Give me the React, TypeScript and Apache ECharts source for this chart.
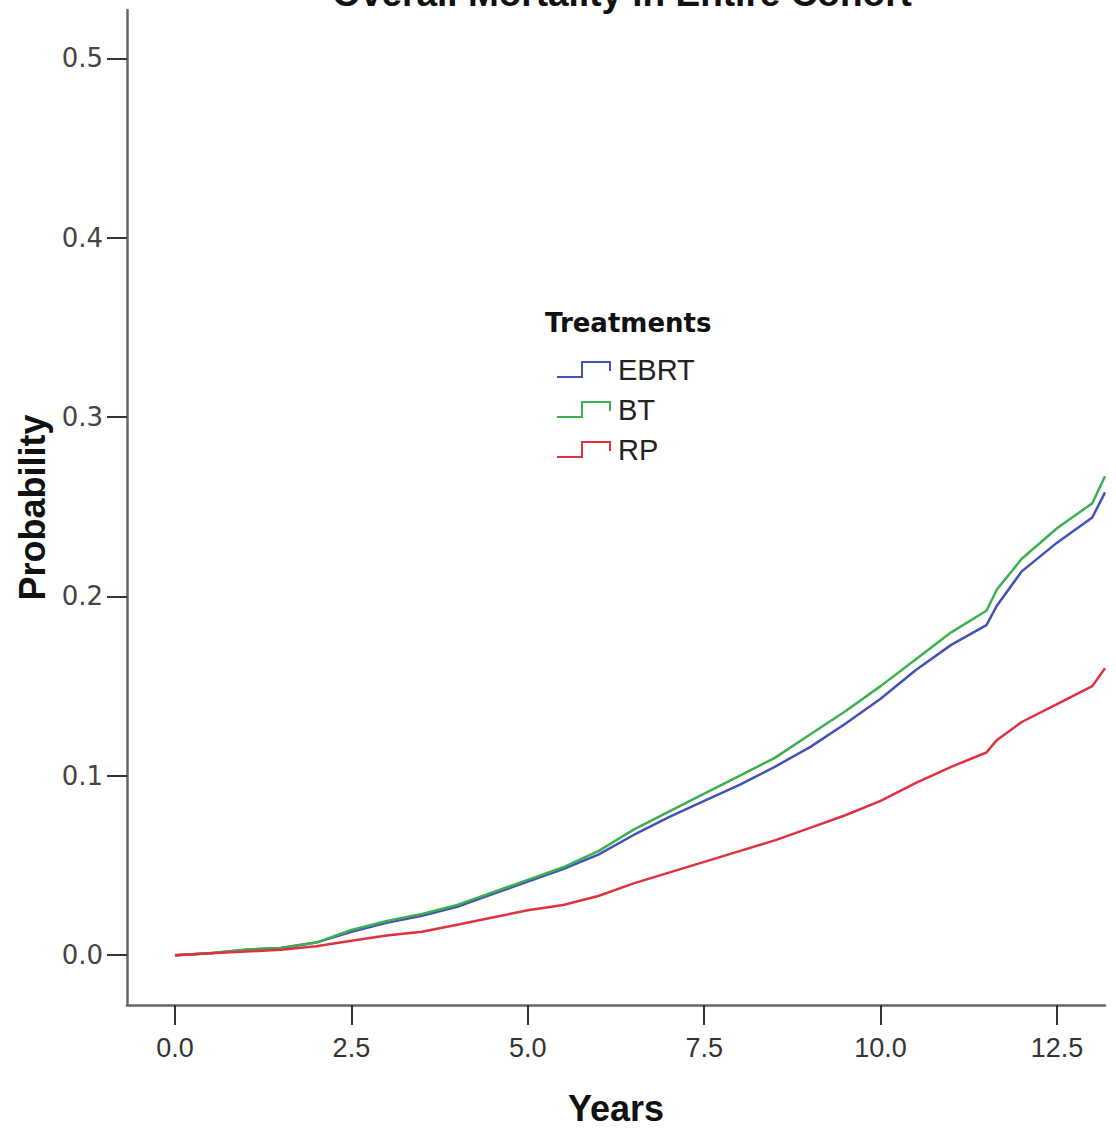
import React, { useEffect, useRef } from "react";
import * as echarts from "echarts";

const years = [0, 0.5, 1, 1.5, 2, 2.5, 3, 3.5, 4, 4.5, 5, 5.5, 6, 6.5, 7, 7.5, 8, 8.5, 9, 9.5, 10, 10.5, 11, 11.5, 11.65, 12, 12.5, 13, 13.18];
const ebrt = [0, 0.001, 0.003, 0.004, 0.007, 0.013, 0.018, 0.022, 0.027, 0.034, 0.041, 0.048, 0.056, 0.067, 0.077, 0.086, 0.095, 0.105, 0.116, 0.129, 0.143, 0.159, 0.173, 0.184, 0.195, 0.214, 0.23, 0.244, 0.258];
const bt = [0, 0.001, 0.003, 0.004, 0.007, 0.014, 0.019, 0.023, 0.028, 0.035, 0.042, 0.049, 0.058, 0.07, 0.08, 0.09, 0.1, 0.11, 0.123, 0.136, 0.15, 0.165, 0.18, 0.192, 0.204, 0.221, 0.238, 0.252, 0.267];
const rp = [0, 0.001, 0.002, 0.003, 0.005, 0.008, 0.011, 0.013, 0.017, 0.021, 0.025, 0.028, 0.033, 0.04, 0.046, 0.052, 0.058, 0.064, 0.071, 0.078, 0.086, 0.096, 0.105, 0.113, 0.12, 0.13, 0.14, 0.15, 0.16];

const xTicks = [0, 2.5, 5, 7.5, 10, 12.5];
const yTicks = [0, 0.1, 0.2, 0.3, 0.4, 0.5];

const seriesNames = ["EBRT", "BT", "RP"];
const seriesColors = ["#4352b4", "#3cb04e", "#e0323e"];
const seriesValues = [ebrt, bt, rp];

const FONT = "'Liberation Sans', Arial, sans-serif";
const WIDE = "'DejaVu Sans', Verdana, sans-serif";

export default function App() {
  const ref = useRef<HTMLDivElement>(null);
  useEffect(() => {
    document.body.style.margin = "0";
    if (!ref.current) return;
    const chart = echarts.init(ref.current, undefined, { renderer: "svg" });
    const axisLineStyle = { color: "#666", width: 2.5 };
    chart.setOption({
      animation: false,
      backgroundColor: "#fff",
      title: {
        text: "Overall Mortality in Entire Cohort",
        left: 617,
        textAlign: "center",
        top: -30,
        textStyle: { fontFamily: FONT, fontSize: 37, fontWeight: "bold", color: "#111" },
      },
      legend: {
        orient: "vertical",
        left: 557,
        top: 355,
        padding: 0,
        itemWidth: 54,
        itemHeight: 17,
        itemGap: 11,
        icon: "path://M0,15 L24,15 L24,0 L54,0 L54,10 L52,10 L52,2 L26,2 L26,17 L0,17 Z",
        textStyle: { fontFamily: FONT, fontSize: 29, color: "#222", padding: [0, 0, 0, 2] },
        data: seriesNames,
      },
      graphic: [
        {
          type: "text",
          left: 545,
          top: 310,
          style: { text: "Treatments", font: `bold 26px ${WIDE}`, fill: "#111" },
        },
      ],
      grid: { left: 127, right: 11, top: 10, bottom: 123 },
      xAxis: {
        type: "value",
        min: -0.68,
        max: 13.18,
        name: "Years",
        nameLocation: "middle",
        nameGap: 85,
        nameTextStyle: { fontFamily: FONT, fontSize: 36, fontWeight: "bold", color: "#111" },
        axisLine: { show: true, onZero: false, lineStyle: axisLineStyle },
        axisTick: { show: true, inside: false, customValues: xTicks, length: 20, lineStyle: { color: "#333", width: 2 } },
        axisLabel: {
          customValues: xTicks,
          formatter: (v: number) => v.toFixed(1),
          fontFamily: "'Liberation Sans Narrow', 'Liberation Sans', Arial, sans-serif",
          fontSize: 27,
          color: "#333",
          margin: 29,
        },
        splitLine: { show: false },
      },
      yAxis: {
        type: "value",
        min: -0.0278,
        max: 0.527,
        name: "Probability",
        nameLocation: "middle",
        nameRotate: 90,
        nameGap: 76,
        nameTextStyle: { fontFamily: FONT, fontSize: 36, fontWeight: "bold", color: "#111" },
        axisLine: { show: true, onZero: false, lineStyle: axisLineStyle },
        axisTick: { show: true, inside: false, customValues: yTicks, length: 20, lineStyle: { color: "#333", width: 2 } },
        axisLabel: {
          customValues: yTicks,
          formatter: (v: number) => v.toFixed(1),
          fontFamily: WIDE,
          fontSize: 26,
          color: "#444",
          margin: 24,
        },
        splitLine: { show: false },
      },
      series: seriesNames.map((name, i) => ({
        name,
        type: "line",
        showSymbol: false,
        color: seriesColors[i],
        itemStyle: { color: seriesColors[i] },
        lineStyle: { width: 2.5, color: seriesColors[i] },
        data: years.map((x, j) => [x, seriesValues[i][j]]),
        z: i === 2 ? 3 : 2,
      })),
    });
    return () => chart.dispose();
  }, []);
  return <div ref={ref} style={{ width: 1116, height: 1131 }} />;
}
